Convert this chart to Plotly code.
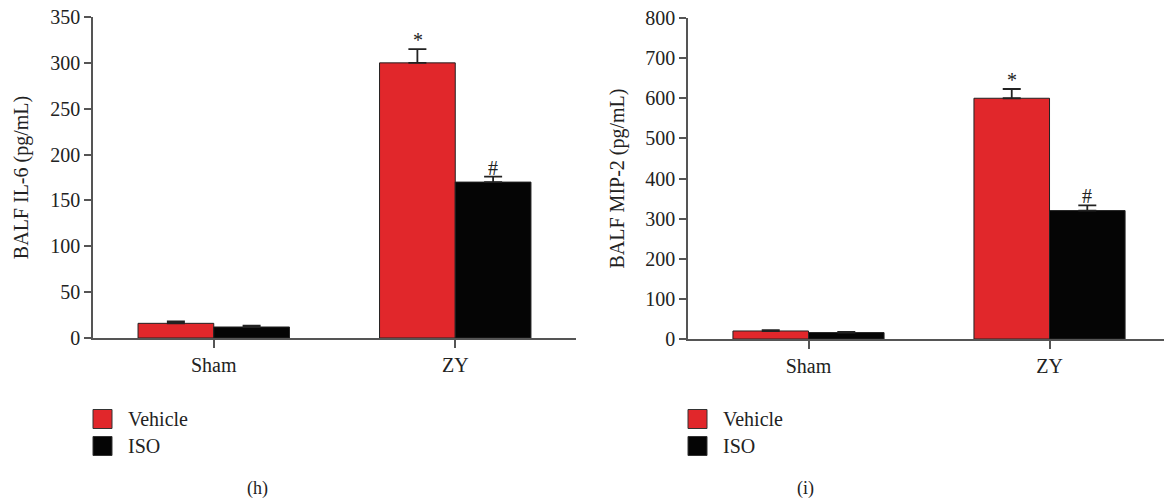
import plotly.graph_objects as go

categories = ["Sham", "ZY"]
series_names = ["Vehicle", "ISO"]
colors = ["#E1272B", "#050505"]

il6_vehicle = [16, 300]
il6_vehicle_err = [2, 15]
il6_iso = [12, 170]
il6_iso_err = [1.5, 6]

mip2_vehicle = [20, 600]
mip2_vehicle_err = [2, 23]
mip2_iso = [16, 320]
mip2_iso_err = [2, 13]

il6_marks = ["*", "#"]   # significance marks on ZY bars
mip2_marks = ["*", "#"]

FONT = "Liberation Serif"
TXT = "#222222"
fig = go.Figure()

panels = [
    dict(x="x", y="y", vals=[(il6_vehicle, il6_vehicle_err), (il6_iso, il6_iso_err)], marks=il6_marks),
    dict(x="x2", y="y2", vals=[(mip2_vehicle, mip2_vehicle_err), (mip2_iso, mip2_iso_err)], marks=mip2_marks),
]

for p in panels:
    for i, (vals, errs) in enumerate(p["vals"]):
        fig.add_trace(go.Bar(
            x=categories, y=vals, name=series_names[i],
            marker=dict(color=colors[i], line=dict(color="#222222", width=1)),
            error_y=dict(type="data", symmetric=False, array=errs,
                         arrayminus=[0] * len(errs), color="#222222",
                         thickness=1.8, width=9),
            offsetgroup=str(i), xaxis=p["x"], yaxis=p["y"], showlegend=False,
        ))
        # significance mark above ZY bar
        fig.add_annotation(
            x=categories[1], y=vals[1] + errs[1], xref=p["x"], yref=p["y"],
            text=p["marks"][i], showarrow=False, yanchor="bottom", yshift=-4,
            xshift=(-37.5 if i == 0 else 37.5),
            font=dict(family=FONT, size=20, color=TXT),
        )

axis_common = dict(
    showline=True, linecolor="#555555", linewidth=1.5, ticks="outside",
    tickcolor="#555555", tickwidth=1.5, showgrid=False, zeroline=False,
    automargin=False,
    tickfont=dict(family=FONT, size=20, color=TXT),
)

fig.update_layout(
    width=1164, height=500,
    margin=dict(l=0, r=0, t=0, b=0),
    paper_bgcolor="white", plot_bgcolor="white",
    barmode="group", bargap=0.373, bargroupgap=0,
    xaxis=dict(domain=[93 / 1164, 576 / 1164], range=[-0.5, 1.5], anchor="y",
               ticklen=8, **axis_common),
    yaxis=dict(domain=[1 - 338 / 500, 1 - 17 / 500], range=[0, 350], dtick=50,
               anchor="x", ticklen=7,
               title=dict(text="BALF IL-6 (pg/mL)", standoff=16,
                          font=dict(family=FONT, size=20, color=TXT)),
               **axis_common),
    xaxis2=dict(domain=[688 / 1164, 1.0], range=[-0.5, 1.475], anchor="y2",
                ticklen=8, **axis_common),
    yaxis2=dict(domain=[1 - 339 / 500, 1 - 18 / 500], range=[0, 800], dtick=100,
                anchor="x2", ticklen=7,
                title=dict(text="BALF MIP-2 (pg/mL)", standoff=15,
                           font=dict(family=FONT, size=20, color=TXT)),
                **axis_common),
    showlegend=False,
)

# custom legends (square swatches) for each panel
for lx in [93, 688]:
    for i, name in enumerate(series_names):
        yc = 419 + 27 * i
        fig.add_shape(type="rect", xref="paper", yref="paper",
                      x0=lx / 1164, x1=(lx + 19) / 1164,
                      y0=1 - (yc + 9.5) / 500, y1=1 - (yc - 9.5) / 500,
                      fillcolor=colors[i], line=dict(color="#333333", width=1))
        fig.add_annotation(x=(lx + 33) / 1164, y=1 - yc / 500, xref="paper", yref="paper",
                           text=name, showarrow=False, xanchor="left", yanchor="middle",
                           font=dict(family=FONT, size=20, color=TXT))

for lbl, cx in [("(h)", 257), ("(i)", 805)]:
    fig.add_annotation(x=cx / 1164, y=1 - 488 / 500, xref="paper", yref="paper",
                       text=lbl, showarrow=False, xanchor="center", yanchor="middle",
                       font=dict(family=FONT, size=18, color=TXT))

fig.write_html("out.html", config={"displayModeBar": False},
               post_script="document.body.style.margin='0px';document.body.style.overflow='hidden';")
